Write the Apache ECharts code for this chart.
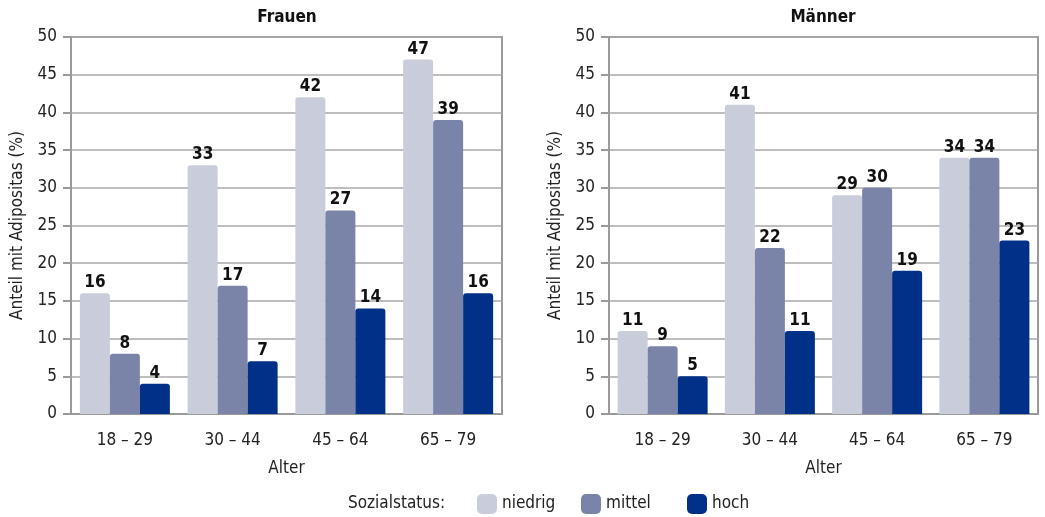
<!DOCTYPE html>
<html>
<head>
<meta charset="utf-8">
<script src="https://cdn.jsdelivr.net/npm/echarts@6/dist/echarts.min.js"></script>
<style>
  html, body { margin: 0; padding: 0; background: #fff; }
  #chart { width: 1045px; height: 517px; }
</style>
</head>
<body>
<div id="chart"></div>
<script>
// Age groups and obesity shares (%) by social status
const categories = ['18 – 29', '30 – 44', '45 – 64', '65 – 79'];
const statusNames = ['niedrig', 'mittel', 'hoch'];
const frauenNiedrig = [16, 33, 42, 47];
const frauenMittel  = [8, 17, 27, 39];
const frauenHoch    = [4, 7, 14, 16];
const maennerNiedrig = [11, 41, 29, 34];
const maennerMittel  = [9, 22, 30, 34];
const maennerHoch    = [5, 11, 19, 23];
const yTicks = [0, 5, 10, 15, 20, 25, 30, 35, 40, 45, 50];

const FONT = "'DejaVu Sans Condensed', 'Liberation Sans Narrow', 'Noto Sans', sans-serif";
const colors = ['#c9ccdb', '#7a84a8', '#003087'];
const axisGrey = '#9a9a9a';
const legendLefts = [477, 581, 687];

const chart = echarts.init(document.getElementById('chart'), null, { renderer: 'canvas' });

function xAxisFor(gridIndex) {
  return {
    type: 'category', gridIndex, data: categories,
    name: 'Alter', nameLocation: 'middle', nameGap: 46,
    nameTextStyle: { fontFamily: FONT, fontSize: 17, color: '#222' },
    axisLine: { lineStyle: { color: axisGrey, width: 2 } },
    axisTick: { length: 8, lineStyle: { color: axisGrey, width: 2 } },
    axisLabel: { fontFamily: FONT, fontSize: 17, color: '#222', margin: 18 }
  };
}
function yAxisFor(gridIndex) {
  return {
    type: 'value', gridIndex, min: yTicks[0], max: yTicks[yTicks.length - 1], interval: 5,
    name: 'Anteil mit Adipositas (%)', nameLocation: 'middle', nameGap: 45,
    nameTextStyle: { fontFamily: FONT, fontSize: 17, color: '#222' },
    axisLine: { show: true, lineStyle: { color: axisGrey, width: 2 } },
    axisTick: { show: true, length: 8, lineStyle: { color: axisGrey, width: 2 } },
    axisLabel: { fontFamily: FONT, fontSize: 17, color: '#222', margin: 14 },
    splitLine: { lineStyle: { color: '#a8a8a8', width: 1.5 } }
  };
}
function barSeries(name, data, idx, axisIdx) {
  return {
    type: 'bar', name, data,
    xAxisIndex: axisIdx, yAxisIndex: axisIdx,
    barWidth: 30, barGap: '0%',
    itemStyle: { color: colors[idx], borderRadius: [3, 3, 0, 0] },
    label: {
      show: true, position: 'top', distance: 2,
      fontFamily: FONT, fontSize: 17, fontWeight: 'bold', color: '#111'
    }
  };
}

chart.setOption({
  animation: false,
  textStyle: { fontFamily: FONT },
  title: [
    { text: 'Frauen', left: 287, top: 9, textAlign: 'center', padding: 0,
      textStyle: { fontFamily: FONT, fontSize: 17, fontWeight: 'bold', color: '#111' } },
    { text: 'Männer', left: 823, top: 9, textAlign: 'center', padding: 0,
      textStyle: { fontFamily: FONT, fontSize: 17, fontWeight: 'bold', color: '#111' } }
  ],
  grid: [
    { left: 71, top: 37, width: 431, height: 377, show: true, borderColor: axisGrey, borderWidth: 2 },
    { left: 609, top: 37, width: 429, height: 377, show: true, borderColor: axisGrey, borderWidth: 2 }
  ],
  // one legend per status so each entry sits at its own position
  legend: statusNames.map((name, i) => ({
    data: [name],
    left: legendLefts[i], top: 494, padding: 0,
    itemWidth: 20, itemHeight: 20,
    icon: 'roundRect',
    textStyle: { fontFamily: FONT, fontSize: 17, color: '#222' }
  })),
  graphic: [
    { type: 'text', left: 348, top: 495,
      style: { text: 'Sozialstatus:', fontFamily: FONT, fontSize: 17, fill: '#222' } }
  ],
  xAxis: [xAxisFor(0), xAxisFor(1)],
  yAxis: [yAxisFor(0), yAxisFor(1)],
  series: [
    barSeries('niedrig', frauenNiedrig, 0, 0),
    barSeries('mittel', frauenMittel, 1, 0),
    barSeries('hoch', frauenHoch, 2, 0),
    barSeries('niedrig', maennerNiedrig, 0, 1),
    barSeries('mittel', maennerMittel, 1, 1),
    barSeries('hoch', maennerHoch, 2, 1)
  ]
});
</script>
</body>
</html>
